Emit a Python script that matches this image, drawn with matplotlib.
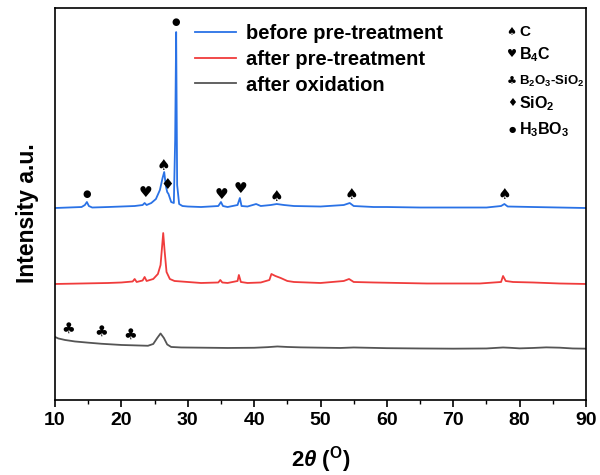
import numpy as np
import matplotlib
matplotlib.use('Agg')
import matplotlib.pyplot as plt

plt.rcParams['font.family'] = ['Liberation Sans', 'DejaVu Sans']
plt.rcParams['mathtext.fontset'] = 'custom'
plt.rcParams['mathtext.rm'] = 'Liberation Sans:bold'
plt.rcParams['mathtext.it'] = 'Liberation Sans:italic:bold'
plt.rcParams['mathtext.bf'] = 'Liberation Sans:bold'

# curves (intensity in arbitrary units, offsets included)
before_x = [10, 12, 14, 14.5, 14.8, 15.1, 15.6, 18, 20, 22, 23.2, 23.5, 23.8, 24.5, 25.2, 25.8,
            26.2, 26.45, 26.7, 26.9, 27.1, 27.5, 27.9, 28.1, 28.25, 28.4, 28.7, 29.2, 30, 32,
            34.6, 35.0, 35.3, 36, 37.5, 37.85, 38.1, 39, 40.3, 41, 42.5, 43.4, 44.5, 46, 50,
            53.5, 54.4, 55, 58, 60, 65, 70, 75, 77.2, 77.7, 78.2, 82, 86, 90]
before_y = [192, 192.5, 193, 195, 198, 194, 192.5, 193, 193.5, 194, 195, 197, 195, 197, 201, 210,
            222, 228, 214, 208, 206, 198, 197, 260, 368, 215, 196, 194, 193.5, 193,
            194, 198, 194, 193, 195, 202, 194, 193.5, 196, 194, 195, 196, 195, 194, 193.5,
            195, 197, 194, 193, 193, 192.5, 192.5, 192.5, 194, 196, 193.5, 193, 192.5, 192]

after_x = [10, 14, 18, 20, 21.7, 22.0, 22.3, 23.2, 23.5, 23.8, 24.8, 25.5, 25.9, 26.15, 26.3,
           26.5, 26.8, 27.3, 28, 30, 32, 34.6, 34.9, 35.2, 36, 37.5, 37.7, 38, 39, 41, 42.3,
           42.6, 43.2, 44, 45, 46, 48, 50, 53.5, 54.3, 55, 58, 62, 66, 70, 74, 77.2, 77.5,
           77.9, 79, 82, 86, 90]
after_y = [116, 116.5, 117, 117.5, 118.5, 121, 118, 119.5, 123, 119, 121, 126, 135, 155, 167,
           150, 128, 121, 119, 118, 117, 117.5, 120, 117.5, 117, 119, 125, 118, 117, 117.5, 120,
           126, 124, 122, 119, 118, 117.5, 117, 119, 121, 118, 117.5, 117, 116.5, 116.5, 116.5, 118,
           124, 119, 118, 117.5, 116.5, 116]

oxid_x = [10, 10.5, 11.5, 13, 15, 17, 20, 22, 24, 24.8, 25.4, 25.9, 26.4, 26.9, 27.5, 29, 32,
          36, 40, 42, 43.5, 45, 47, 50, 53, 55, 60, 65, 70, 75, 77.5, 78.5, 80, 82, 84, 86, 88, 90]
oxid_y = [63, 61.5, 60, 58.5, 57.3, 56.2, 55, 54.6, 54.2, 56, 62, 66.5, 62, 55.5, 53, 52.5, 52.3,
          52, 52.2, 52.8, 53.5, 53, 52.6, 52.3, 52, 52.5, 51.8, 51.5, 51.3, 51.5, 52.5, 52.2, 51.6,
          52, 52.6, 52.3, 51.5, 51.3]

labels = ['before pre-treatment', 'after pre-treatment', 'after oxidation']
colors = ['#2a72e6', '#f03c3c', '#555555']

# phase markers: symbol, 2theta, height
mark_sym = ['●', '●', '♥', '♠', '♦', '♥', '♥', '♠', '♠', '♠', '♣', '♣', '♣']
mark_x = [28.2, 14.8, 23.55, 26.4, 26.9, 35.0, 38.0, 43.4, 54.6, 77.7, 12.0, 17.0, 21.3]
mark_y = [378, 206, 208, 235, 216, 206, 212, 204, 206, 206, 72, 69, 66]

key_sym = ['♠', '♥', '♣', '♦', '●']
key_text = ['C', r'B$_4$C', r'B$_2$O$_3$-SiO$_2$', r'SiO$_2$', r'H$_3$BO$_3$']

fig = plt.figure(figsize=(6, 4.75), dpi=100)
ax = fig.add_axes([0.0917, 0.158, 0.885, 0.825])

for x, y, lab, c in zip([before_x, after_x, oxid_x], [before_y, after_y, oxid_y], labels, colors):
    ax.plot(x, y, color=c, lw=1.3, label=lab)

for s, x, y in zip(mark_sym, mark_x, mark_y):
    fs = 7 if s == '●' else 11
    ax.text(x, y, s, fontsize=fs, ha='center', va='center', family='DejaVu Sans')

ky = [0.939, 0.882, 0.812, 0.757, 0.689]
ks = [8, 8, 8, 8, 6]
kf = [11, 11.5, 9.5, 11.5, 11.5]
for s, t, y, a, b in zip(key_sym, key_text, ky, ks, kf):
    ax.text(0.86, y, s, fontsize=a, ha='center', va='center', transform=ax.transAxes,
            family='DejaVu Sans')
    ax.text(0.874, y, t, fontsize=b, ha='left', va='center', fontweight='bold',
            transform=ax.transAxes)

ax.legend(loc='upper left', bbox_to_anchor=(0.23, 1.005), frameon=False,
          prop={'weight': 'bold', 'size': 14.5}, handlelength=2.0, handletextpad=0.5,
          labelspacing=0.33)

ax.set_xlim(10, 90)
ax.set_ylim(0, 392)
ax.set_xticks(range(10, 91, 10))
ax.set_xticks(range(15, 90, 10), minor=True)
ax.set_yticks([])
ax.tick_params(axis='x', which='major', direction='out', length=5, width=1.2, labelsize=14)
ax.tick_params(axis='x', which='minor', direction='out', length=3, width=1.0)
for lbl in ax.get_xticklabels():
    lbl.set_fontweight('bold')
for sp in ax.spines.values():
    sp.set_linewidth(1.2)

ax.set_xlabel(r'2$\mathit{\theta}$ ($^\mathrm{O}$)', fontsize=16, fontweight='bold', labelpad=11)
ax.set_ylabel('Intensity a.u.', fontsize=16.5, fontweight='bold')
ax.yaxis.set_label_coords(-0.03, 0.477)

fig.savefig('out.png', dpi=100)
